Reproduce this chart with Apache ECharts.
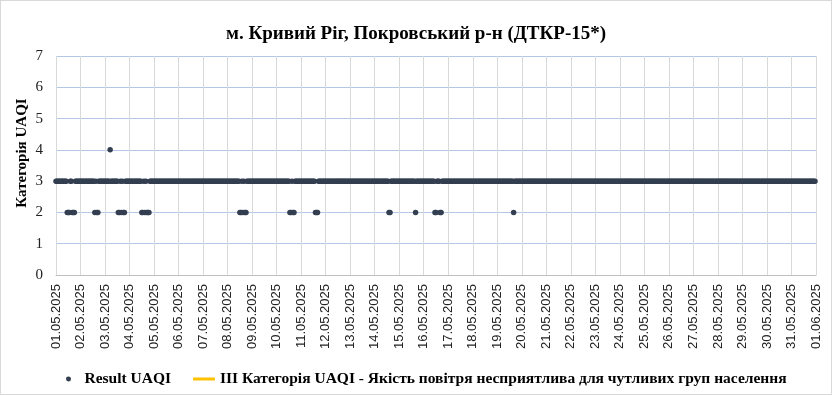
<!DOCTYPE html>
<html>
<head>
<meta charset="utf-8">
<script src="https://cdn.jsdelivr.net/npm/echarts@6/dist/echarts.min.js"></script>
<style>
html,body{margin:0;padding:0;background:#fff;}
#c{width:832px;height:395px;box-sizing:border-box;border:1px solid #d9d9d9;}
</style>
</head>
<body>
<div id="c"></div>
<script>
// Tick labels (one per day, midnight)
const dayLabels = ["01.05.2025","02.05.2025","03.05.2025","04.05.2025","05.05.2025","06.05.2025","07.05.2025","08.05.2025","09.05.2025","10.05.2025","11.05.2025","12.05.2025","13.05.2025","14.05.2025","15.05.2025","16.05.2025","17.05.2025","18.05.2025","19.05.2025","20.05.2025","21.05.2025","22.05.2025","23.05.2025","24.05.2025","25.05.2025","26.05.2025","27.05.2025","28.05.2025","29.05.2025","30.05.2025","31.05.2025","01.06.2025"];
// Hourly Result UAQI values, one string of 24 hourly categories per day (hours 00..23)
const hourlyUAQI = [
  "333333333332223322233333", // 01.05
  "333333333333332322333333", // 02.05
  "333334333333322323223333", // 03.05
  "333333333333223232223333", // 04.05
  "333333333333333333333333", // 05.05
  "333333333333333333333333", // 06.05
  "333333333333333333333333", // 07.05
  "333333333333223232233333", // 08.05
  "333333333333333333333333", // 09.05
  "333333333333322322333333", // 10.05
  "333333333333332223333333", // 11.05
  "333333333333333333333333", // 12.05
  "333333333333333333333333", // 13.05
  "333333333333332233333333", // 14.05
  "333333333333333323333333", // 15.05
  "333333333332233322333333", // 16.05
  "333333333333333333333333", // 17.05
  "333333333333333333333333", // 18.05
  "333333333333333323333333", // 19.05
  "333333333333333333333333", // 20.05
  "333333333333333333333333", // 21.05
  "333333333333333333333333", // 22.05
  "333333333333333333333333", // 23.05
  "333333333333333333333333", // 24.05
  "333333333333333333333333", // 25.05
  "333333333333333333333333", // 26.05
  "333333333333333333333333", // 27.05
  "333333333333333333333333", // 28.05
  "333333333333333333333333", // 29.05
  "333333333333333333333333", // 30.05
  "333333333333333333333333"  // 31.05
];
const thresholdValue = 3;
const yTicks = [0,1,2,3,4,5,6,7];
const titleText = "м. Кривий Ріг, Покровський р-н (ДТКР-15*)";
const yAxisTitle = "Категорія UAQI";
const seriesNames = ["Result UAQI", "ІІІ Категорія UAQI - Якість повітря несприятлива для чутливих груп населення"];

const scatterData = [];
hourlyUAQI.forEach((s, d) => {
  for (let h = 0; h < s.length; h++) scatterData.push([d * 24 + h, Number(s[h])]);
});
const xMax = (dayLabels.length - 1) * 24;

const serif = "'Liberation Serif','Times New Roman',serif";
const chart = echarts.init(document.getElementById('c'), null, {renderer: 'canvas'});
chart.setOption({
  animation: false,
  backgroundColor: '#fff',
  title: {
    text: titleText, left: 'center', top: 19,
    textStyle: {fontFamily: serif, fontWeight: 'bold', fontSize: 19, color: '#000'}
  },
  graphic: [{
    type: 'text', x: 21, y: 152, rotation: Math.PI / 2,
    style: {
      text: yAxisTitle, fontFamily: serif, fontWeight: 'bold', fontSize: 15,
      fill: '#000', align: 'center', verticalAlign: 'middle'
    }
  }],
  legend: [{
    data: [seriesNames[0]], left: 60, top: 365,
    icon: 'path://M0,0 A5,5 0 1,1 0,0.01 Z',
    itemWidth: 22, itemHeight: 5,
    textStyle: {fontFamily: serif, fontWeight: 'bold', fontSize: 15.5, color: '#000'}
  }, {
    data: [seriesNames[1]], left: 187, top: 365,
    icon: 'rect', itemWidth: 22, itemHeight: 3,
    textStyle: {fontFamily: serif, fontWeight: 'bold', fontSize: 15.5, color: '#000'}
  }],
  grid: {left: 55, right: 15, top: 55, bottom: 119, containLabel: false},
  xAxis: {
    type: 'value', min: 0, max: xMax, interval: 24,
    axisLine: {show: true, lineStyle: {color: '#bfbfbf', width: 1}},
    axisTick: {show: false},
    splitLine: {show: true, lineStyle: {color: '#d9d9d9', width: 1}},
    axisLabel: {
      rotate: 90, margin: 9, fontSize: 13, color: '#222',
      fontFamily: "'Liberation Sans',Arial,sans-serif",
      formatter: v => dayLabels[Math.round(v / 24)] || ''
    }
  },
  yAxis: {
    type: 'value', min: yTicks[0], max: yTicks[yTicks.length - 1], interval: 1,
    axisLine: {show: false}, axisTick: {show: false},
    splitLine: {show: true, lineStyle: {color: '#b4c7e7', width: 1}},
    axisLabel: {fontFamily: serif, fontSize: 15, color: '#222', margin: 13}
  },
  series: [{
    name: seriesNames[1], type: 'line', z: 1,
    data: [[0, thresholdValue], [xMax, thresholdValue]],
    showSymbol: false, symbol: 'none',
    lineStyle: {color: '#ffc000', width: 2.5}, itemStyle: {color: '#ffc000'}
  }, {
    name: seriesNames[0], type: 'scatter', z: 3,
    data: scatterData, symbolSize: 5.5,
    itemStyle: {color: '#333f50', opacity: 1}
  }]
});
</script>
</body>
</html>
